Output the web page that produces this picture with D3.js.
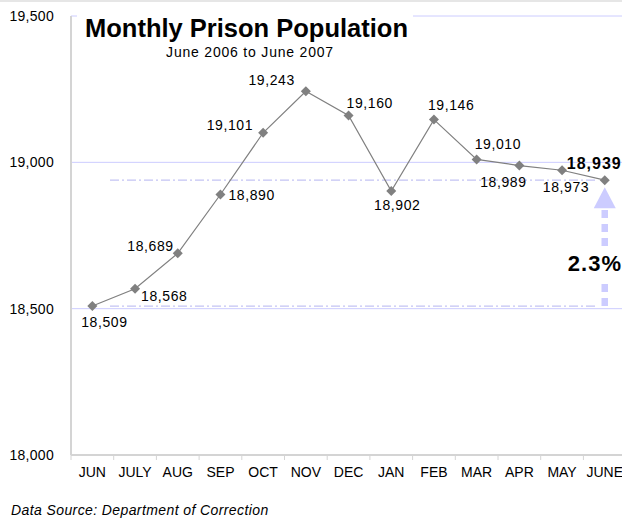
<!DOCTYPE html>
<html>
<head>
<meta charset="utf-8">
<script src="https://cdn.jsdelivr.net/npm/d3@7"></script>
<style>
  body { margin: 0; background: #fff; }
  text { font-family: "Liberation Sans", Arial, sans-serif; }
</style>
</head>
<body>
<script>
// chart data
const months = ["JUN", "JULY", "AUG", "SEP", "OCT", "NOV", "DEC", "JAN", "FEB", "MAR", "APR", "MAY", "JUNE"];
const population = [18509, 18568, 18689, 18890, 19101, 19243, 19160, 18902, 19146, 19010, 18989, 18973, 18939];
const yTicks = [18000, 18500, 19000, 19500];
const changeLabel = "2.3%";

let width = 622;
let height = 525;
let svg = d3.select("body").append("svg")
  .attr("width", width)
  .attr("height", height);

// thin grey strip along the top
svg.append("rect").attr("x", 0).attr("y", 0).attr("width", width).attr("height", 2).attr("fill", "#e6e6e6");

let x = d3.scaleBand().domain(months).range([71, 71 + 13 * 42.7]);
let y = d3.scaleLinear().domain([18000, 19500]).range([455, 16]);
let cx = d => x(d) + x.bandwidth() / 2;

// gridlines
svg.append("g").selectAll("line")
  .data(yTicks.filter(t => t > 18000))
  .enter().append("line")
  .attr("x1", 71).attr("x2", width)
  .attr("y1", d => y(d)).attr("y2", d => y(d))
  .attr("stroke", "#ccccff").attr("stroke-width", 1);

// y axis line
svg.append("line")
  .attr("x1", 71).attr("x2", 71).attr("y1", 16).attr("y2", 455)
  .attr("stroke", "#d4d4d4").attr("stroke-width", 2);

// y tick labels
svg.append("g").selectAll("text")
  .data(yTicks)
  .enter().append("text")
  .attr("x", 54).attr("y", d => y(d) + 5)
  .attr("text-anchor", "end")
  .attr("font-size", 14).attr("letter-spacing", 0.3)
  .text(d => d3.format(",")(d));

// x axis
let xAxis = d3.axisBottom(x).tickSize(0).tickPadding(12);
let xg = svg.append("g").attr("transform", "translate(0,455)").call(xAxis);
xg.select(".domain").remove();
xg.selectAll("text").attr("font-size", 14).attr("fill", "#000")
  .attr("font-family", "Liberation Sans, Arial, sans-serif");
svg.append("line")
  .attr("x1", 71).attr("x2", width).attr("y1", 455).attr("y2", 455)
  .attr("stroke", "#d4d4d4").attr("stroke-width", 2);
svg.append("g").selectAll("line")
  .data(months)
  .enter().append("line")
  .attr("x1", d => x(d)).attr("x2", d => x(d))
  .attr("y1", 455).attr("y2", 460)
  .attr("stroke", "#d4d4d4").attr("stroke-width", 1);

// reference dash-dot lines at start and end values
let first = population[0], last = population[population.length - 1];
svg.append("g").selectAll("line")
  .data([first, last])
  .enter().append("line")
  .attr("x1", 110).attr("x2", 598)
  .attr("y1", d => y(d)).attr("y2", d => y(d))
  .attr("stroke", "#c4c4f4").attr("stroke-width", 1.2)
  .attr("stroke-dasharray", "9,3,2,3");

// title box
svg.append("rect").attr("x", 77).attr("y", 8).attr("width", 336).attr("height", 52).attr("fill", "#fff");
svg.append("text").attr("x", 85).attr("y", 37)
  .attr("font-size", 25.5).attr("font-weight", "bold")
  .text("Monthly Prison Population");
svg.append("text").attr("x", 250).attr("y", 57)
  .attr("font-size", 14).attr("letter-spacing", 0.8).attr("text-anchor", "middle")
  .text("June 2006 to June 2007");

// line
let line = d3.line().x((d, i) => cx(months[i])).y(d => y(d));
svg.append("path")
  .datum(population)
  .attr("d", line)
  .attr("fill", "none")
  .attr("stroke", "#808080")
  .attr("stroke-width", 1.2);

// markers
svg.append("g").selectAll("path")
  .data(population)
  .enter().append("path")
  .attr("d", d3.symbol().type(d3.symbolDiamond2).size(64))
  .attr("transform", (d, i) => "translate(" + cx(months[i]) + "," + y(d) + ")")
  .attr("fill", "#808080");

// value labels: [dx, dy, anchor]
let placement = [
  [12, 21, "middle"], [6, 12, "start"], [-4, -2, "end"], [8, 5, "start"],
  [-10, -3, "end"], [-11, -6, "end"], [-2, -8, "start"], [6, 19, "middle"],
  [-6, -10, "start"], [-2, -10, "start"], [-16, 21, "middle"], [4, 22, "middle"],
  [17, -11, "end"]
];
svg.append("g").selectAll("text")
  .data(population)
  .enter().append("text")
  .attr("x", (d, i) => cx(months[i]) + placement[i][0])
  .attr("y", (d, i) => y(d) + placement[i][1])
  .attr("text-anchor", (d, i) => placement[i][2])
  .attr("font-size", (d, i) => i === population.length - 1 ? 16 : 14)
  .attr("letter-spacing", (d, i) => i === population.length - 1 ? 1 : 0.6)
  .attr("font-weight", (d, i) => i === population.length - 1 ? "bold" : "normal")
  .text(d => d3.format(",")(d));

// change arrow
let ax = cx(months[months.length - 1]);
let arrow = svg.append("g").attr("fill", "#ccccff").attr("stroke", "#ccccff");
arrow.append("line").attr("x1", ax).attr("x2", ax).attr("y1", y(first)).attr("y2", 281)
  .attr("stroke-width", 6.5).attr("stroke-dasharray", "8,6");
arrow.append("line").attr("x1", ax).attr("x2", ax).attr("y1", 246).attr("y2", 208)
  .attr("stroke-width", 6.5).attr("stroke-dasharray", "8,6");
arrow.append("path")
  .attr("stroke", "none")
  .attr("d", "M" + ax + "," + (y(last) + 7) + "L" + (ax + 11) + "," + (y(last) + 28) +
    "L" + (ax - 11) + "," + (y(last) + 28) + "Z");
svg.append("text").attr("x", 622).attr("y", 271)
  .attr("text-anchor", "end").attr("font-size", 22).attr("font-weight", "bold")
  .attr("letter-spacing", 1)
  .text(changeLabel);

// source note
svg.append("text").attr("x", 11).attr("y", 515)
  .attr("font-size", 14).attr("font-style", "italic").attr("letter-spacing", 0.4)
  .text("Data Source: Department of Correction");
</script>
</body>
</html>
